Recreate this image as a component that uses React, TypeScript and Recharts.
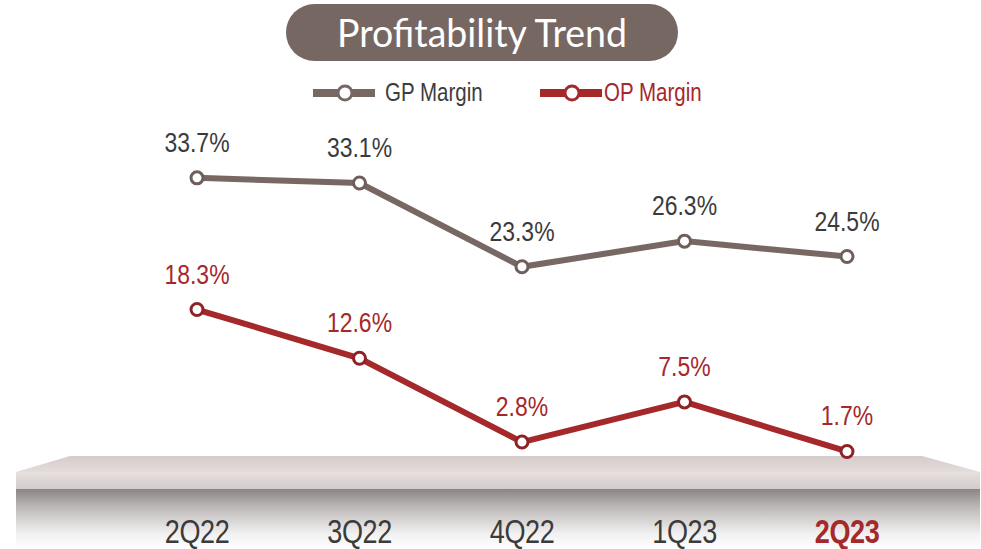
import React from "react";
import { LineChart, Line, XAxis, YAxis, LabelList } from "recharts";

const quarters = ["2Q22", "3Q22", "4Q22", "1Q23", "2Q23"];
const gpMargin = [33.7, 33.1, 23.3, 26.3, 24.5];
const opMargin = [18.3, 12.6, 2.8, 7.5, 1.7];
const seriesNames = ["GP Margin", "OP Margin"];
const chartTitle = "Profitability Trend";
const currentQuarter = "2Q23";

const data = quarters.map((q, i) => ({ quarter: q, gp: gpMargin[i], op: opMargin[i] }));

// no Arial Narrow here, so squeeze Liberation Sans sideways
const SANS = "'Liberation Sans', Arial, sans-serif";
const SQUEEZE = 0.82;
const GP_COLOR = "#776864";
const OP_COLOR = "#a5282b";

function NarrowText({ x, y, anchor = "middle", size, color, bold, spacing, children }: any) {
  return (
    <text
      transform={`translate(${x},${y}) scale(${SQUEEZE},1)`}
      textAnchor={anchor}
      fontFamily={SANS}
      fontSize={size}
      fontWeight={bold ? 700 : 400}
      letterSpacing={spacing}
      fill={color}
    >
      {children}
    </text>
  );
}

function QuarterTick(props: any) {
  const { x, y, payload } = props;
  const cur = payload.value === currentQuarter;
  return (
    <NarrowText x={x} y={y + 77} size={33} spacing={-0.5} bold={cur} color={cur ? "#a5282b" : "#3b3b3b"}>
      {payload.value}
    </NarrowText>
  );
}

const valueLabel = (color: string) => (props: any) => {
  const { x, y, value } = props;
  return (
    <NarrowText x={x} y={y - 26} size={28} color={color}>
      {Number(value).toFixed(1)}%
    </NarrowText>
  );
};

function Platform() {
  return (
    <svg width={981} height={549} style={{ position: "absolute", left: 0, top: 0 }}>
      <defs>
        <linearGradient id="topFace" x1="0" y1="0" x2="0" y2="1">
          <stop offset="0" stopColor="#d5cbca" />
          <stop offset="1" stopColor="#e4dcdb" />
        </linearGradient>
        <linearGradient id="frontFace" x1="0" y1="0" x2="0" y2="1">
          <stop offset="0" stopColor="#e7e0df" />
          <stop offset="1" stopColor="#d4cbca" />
        </linearGradient>
        <linearGradient id="shadow" x1="0" y1="0" x2="0" y2="1">
          <stop offset="0" stopColor="#8a8484" />
          <stop offset="0.3" stopColor="#bdb8b8" />
          <stop offset="0.75" stopColor="#f2f1f1" />
          <stop offset="1" stopColor="#ffffff" />
        </linearGradient>
      </defs>
      <polygon points="70,456 922,456 980,472 16,472" fill="url(#topFace)" />
      <rect x={16} y={472} width={964} height={17} fill="url(#frontFace)" />
      <rect x={16} y={489} width={964} height={60} fill="url(#shadow)" />
    </svg>
  );
}

function Header() {
  const colors = [GP_COLOR, OP_COLOR];
  const legendX = [313, 540];
  const textX = [385, 604];
  return (
    <svg width={981} height={120} style={{ position: "absolute", left: 0, top: 0, pointerEvents: "none" }}>
      <rect x={286} y={4} width={392} height={57} rx={28.5} fill="#776762" />
      <text
        x={482}
        y={47}
        textAnchor="middle"
        fontFamily="Lato, 'Open Sans', sans-serif"
        fontSize={39}
        fill="#ffffff"
        textLength={290}
        lengthAdjust="spacingAndGlyphs"
      >
        {chartTitle}
      </text>
      {seriesNames.map((name, i) => (
        <g key={name}>
          <line x1={legendX[i]} x2={legendX[i] + 62} y1={93} y2={93} stroke={colors[i]} strokeWidth={8} />
          <circle cx={legendX[i] + 32} cy={93} r={7} fill="#fff" stroke={colors[i]} strokeWidth={3} />
          <NarrowText x={textX[i]} y={101} anchor="start" size={25} color={i === 1 ? OP_COLOR : "#3d3d3d"}>
            {name}
          </NarrowText>
        </g>
      ))}
    </svg>
  );
}

export default function App() {
  return (
    <div style={{ position: "absolute", left: 0, top: 0, width: 981, height: 549, background: "#fff", overflow: "hidden" }}>
      <Platform />
      <div style={{ position: "absolute", left: 0, top: 0 }}>
        <LineChart width={981} height={549} data={data} margin={{ top: 124, right: 134, left: 197, bottom: 0 }}>
          <XAxis
            dataKey="quarter"
            axisLine={false}
            tickLine={false}
            tickSize={0}
            tickMargin={0}
            height={83}
            interval={0}
            tick={<QuarterTick />}
          />
          <YAxis hide domain={[0, 40]} />
          <Line
            dataKey="gp"
            name={seriesNames[0]}
            stroke={GP_COLOR}
            strokeWidth={6}
            dot={{ r: 6, fill: "#fff", stroke: "#6e5f5b", strokeWidth: 3 }}
            activeDot={false}
            isAnimationActive={false}
          >
            <LabelList dataKey="gp" content={valueLabel("#3b3b3b")} />
          </Line>
          <Line
            dataKey="op"
            name={seriesNames[1]}
            stroke={OP_COLOR}
            strokeWidth={6}
            dot={{ r: 6, fill: "#fff", stroke: "#8e2226", strokeWidth: 3 }}
            activeDot={false}
            isAnimationActive={false}
          >
            <LabelList dataKey="op" content={valueLabel(OP_COLOR)} />
          </Line>
        </LineChart>
      </div>
      <Header />
    </div>
  );
}
